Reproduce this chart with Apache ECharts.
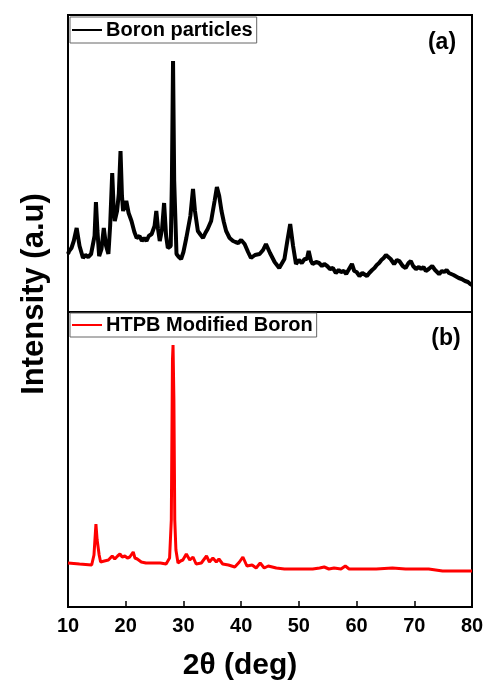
<!DOCTYPE html>
<html>
<head>
<meta charset="utf-8">
<script src="https://cdn.jsdelivr.net/npm/echarts@6/dist/echarts.min.js"></script>
<style>
  html, body { margin: 0; padding: 0; background: #fff; }
  #chart { width: 489px; height: 688px; }
</style>
</head>
<body>
<div id="chart"></div>
<script>
// XRD patterns, 2theta (deg) / intensity (a.u.)
var boronTheta = [10.0, 10.2, 10.6, 11.0, 11.5, 12.0, 12.6, 13.0, 13.5, 14.0, 14.3, 14.6, 14.84, 15.1, 15.4, 15.8, 16.2, 16.6, 17.0, 17.3, 17.66, 17.9, 18.1, 18.5, 18.8, 19.1, 19.35, 19.55, 20.1, 20.5, 21.0, 21.5, 21.9, 22.4, 22.8, 23.2, 23.6, 24.0, 24.5, 25.0, 25.3, 25.6, 25.9, 26.3, 26.65, 27.0, 27.3, 27.8, 28.0, 28.2, 28.4, 28.8, 29.2, 29.6, 30.0, 30.5, 31.2, 31.66, 32.0, 32.5, 33.0, 33.4, 33.8, 34.2, 34.8, 35.4, 35.8, 36.2, 36.6, 37.0, 37.4, 38.0, 38.6, 39.0, 39.5, 40.0, 40.3, 40.6, 41.2, 41.7, 42.4, 43.2, 43.8, 44.3, 45.0, 45.8, 46.6, 47.5, 48.0, 48.5, 49.0, 49.5, 50.0, 50.5, 51.0, 51.4, 51.7, 52.1, 52.4, 53.0, 53.5, 54.0, 54.4, 54.9, 55.4, 55.9, 56.4, 56.9, 57.3, 57.8, 58.2, 58.9, 59.2, 59.6, 60.0, 60.5, 61.0, 61.3, 61.8, 62.2, 62.7, 63.1, 63.5, 63.9, 64.3, 64.7, 65.1, 65.4, 65.9, 66.5, 67.0, 67.4, 68.0, 68.5, 69.0, 69.4, 69.8, 70.3, 70.8, 71.2, 71.6, 72.0, 72.5, 73.1, 73.6, 74.3, 74.8, 75.2, 75.6, 76.0, 76.8, 77.7, 78.2, 78.8, 79.3, 79.7, 80.0];
var boronInt = [58, 61, 64, 71, 84, 66, 54, 57, 55, 58, 57, 76, 110, 81, 56, 63, 84, 66, 58, 86, 139, 106, 91, 101, 118, 161, 116, 101, 111, 99, 91, 80, 74, 76, 71, 74, 71, 76, 78, 86, 101, 83, 71, 83, 109, 76, 64, 66, 131, 251, 131, 58, 55, 53, 60, 74, 96, 123, 101, 81, 77, 74, 79, 83, 91, 111, 125, 116, 101, 90, 81, 74, 71, 70, 69, 72, 73, 68, 60, 54, 57, 58, 62, 68, 59, 50, 44, 53, 71, 88, 66, 48, 52, 49, 53, 53, 61, 51, 48, 50, 49, 46, 48, 46, 43, 44, 39, 42, 40, 41, 38, 45, 48, 41, 40, 36, 39, 38, 36, 39, 42, 44, 47, 49, 52, 54, 57, 58, 53, 48, 52, 51, 46, 44, 49, 51, 46, 43, 45, 43, 45, 41, 43, 46, 42, 38, 41, 40, 42, 39, 37, 34, 33, 31, 30, 28, 27];

var htpbTheta = [10.0, 10.3, 12.0, 14.1, 14.5, 14.84, 15.05, 15.2, 15.4, 15.65, 16.3, 17.0, 17.66, 18.1, 18.6, 19.0, 19.4, 19.85, 20.3, 20.7, 21.3, 21.6, 22.0, 22.7, 23.5, 24.7, 26.0, 27.0, 27.6, 27.9, 28.1, 28.2, 28.35, 28.5, 28.7, 29.06, 29.5, 29.9, 30.5, 31.1, 31.66, 32.2, 33.1, 34.0, 34.5, 35.1, 35.7, 36.15, 36.8, 37.8, 38.9, 39.7, 40.3, 41.0, 41.9, 42.6, 43.3, 44.0, 44.7, 46.1, 47.5, 48.9, 50.5, 52.4, 53.6, 54.4, 55.2, 56.1, 57.3, 58.05, 58.7, 61.0, 63.4, 66.2, 68.5, 70.5, 72.5, 74.9, 77.5, 80.0];
var htpbInt = [44, 44, 43, 42, 52, 83, 67, 68, 52, 45, 46, 47, 51, 48, 51, 53, 50, 51, 49, 50, 55, 49, 48, 45, 44, 44, 44, 43, 49, 87, 247, 262, 207, 87, 57, 44, 46, 47, 53, 47, 50, 43, 44, 51, 45, 49, 45, 48, 43, 42, 40, 45, 50, 41, 42, 39, 44, 39, 41, 39, 38, 38, 38, 38, 39, 40, 38, 39, 38, 41, 38, 38, 38, 39, 38, 38, 38, 36, 36, 36];

var xTicks = [10, 20, 30, 40, 50, 60, 70, 80];

function pairs(xs, ys) {
    var out = [];
    for (var i = 0; i < xs.length; i++) out.push([xs[i], ys[i]]);
    return out;
}

var font = "'Liberation Sans', Arial, sans-serif";
var myChart = echarts.init(document.getElementById('chart'));

var option = {
    animation: false,
    grid: [
        {left: 68, right: 17, top: 15, height: 297, show: true, borderColor: '#000', borderWidth: 2},
        {left: 68, right: 17, top: 312, height: 295, show: true, borderColor: '#000', borderWidth: 2}
    ],
    xAxis: [
        {gridIndex: 0, type: 'value', min: 10, max: 80, interval: 10,
         axisLine: {show: false}, axisTick: {show: false}, axisLabel: {show: false}, splitLine: {show: false}},
        {gridIndex: 1, type: 'value', min: 10, max: 80, interval: 10,
         axisLine: {show: false},
         axisTick: {show: true, inside: true, length: 6, lineStyle: {color: '#000', width: 1.5}},
         axisLabel: {
             margin: 9, color: '#000', fontSize: 20, fontWeight: 'bold', fontFamily: font,
             formatter: function (v) { return xTicks.indexOf(v) >= 0 ? String(v) : ''; }
         },
         splitLine: {show: false}}
    ],
    yAxis: [
        {gridIndex: 0, type: 'value', min: 0, max: 297, show: false},
        {gridIndex: 1, type: 'value', min: 0, max: 295, show: false}
    ],
    legend: [
        {
            data: ['Boron particles'], left: 70, top: 17,
            icon: 'rect', itemWidth: 30, itemHeight: 2, itemGap: 0,
            padding: [3, 4, 3, 2], borderColor: '#666', borderWidth: 1,
            textStyle: {color: '#000', fontSize: 20, fontWeight: 'bold', fontFamily: font, padding: [0, 0, 0, -1]}
        },
        {
            data: ['HTPB Modified Boron'], left: 70, top: 313,
            icon: 'rect', itemWidth: 30, itemHeight: 2, itemGap: 0,
            padding: [2, 4, 2, 2], borderColor: '#666', borderWidth: 1,
            textStyle: {color: '#000', fontSize: 20, fontWeight: 'bold', fontFamily: font, padding: [0, 0, 0, -1]}
        }
    ],
    graphic: [
        {type: 'text', x: 442, y: 43, style: {text: '(a)', fill: '#000', font: 'bold 23px ' + font, textAlign: 'center', textVerticalAlign: 'middle'}},
        {type: 'text', x: 446, y: 339, style: {text: '(b)', fill: '#000', font: 'bold 23px ' + font, textAlign: 'center', textVerticalAlign: 'middle'}},
        {type: 'text', x: 240, y: 666, style: {text: '2θ (deg)', fill: '#000', font: 'bold 30px ' + font, textAlign: 'center', textVerticalAlign: 'middle'}},
        {type: 'text', x: 34, y: 294, rotation: Math.PI / 2, style: {text: 'Intensity (a.u)', fill: '#000', font: 'bold 31px ' + font, textAlign: 'center', textVerticalAlign: 'middle'}}
    ],
    series: [
        {
            name: 'Boron particles', type: 'line', xAxisIndex: 0, yAxisIndex: 0,
            showSymbol: false, smooth: false,
            lineStyle: {color: '#000', width: 4},
            itemStyle: {color: '#000'},
            data: pairs(boronTheta, boronInt)
        },
        {
            name: 'HTPB Modified Boron', type: 'line', xAxisIndex: 1, yAxisIndex: 1,
            showSymbol: false, smooth: false,
            lineStyle: {color: '#ff0000', width: 3},
            itemStyle: {color: '#ff0000'},
            data: pairs(htpbTheta, htpbInt)
        }
    ]
};

myChart.setOption(option);
</script>
</body>
</html>
